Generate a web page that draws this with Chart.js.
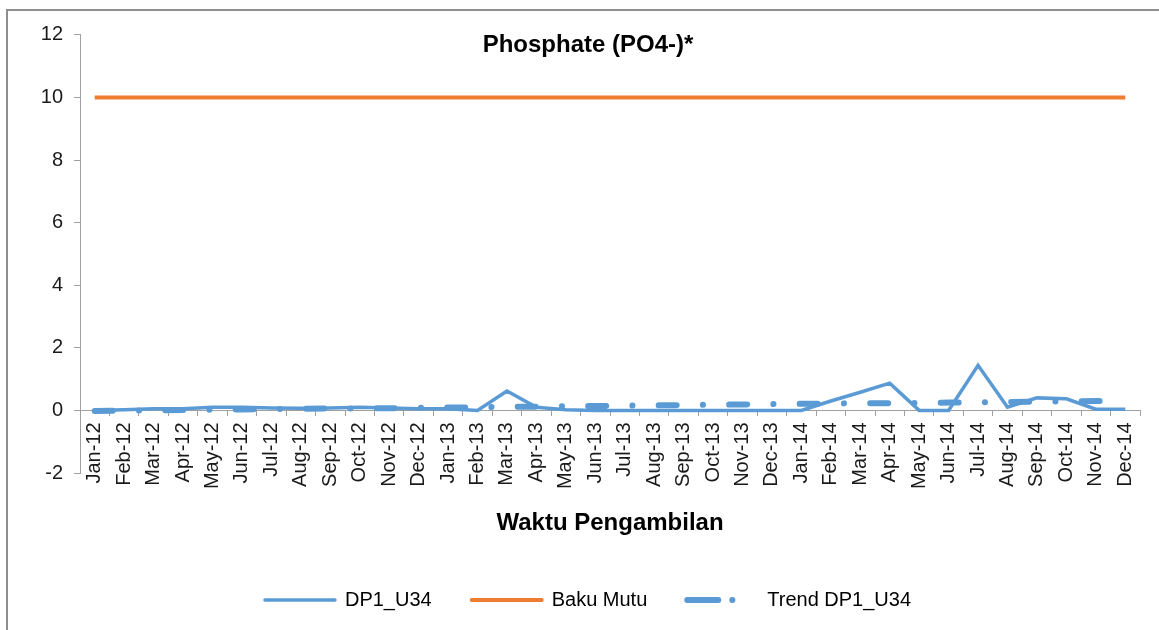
<!DOCTYPE html>
<html>
<head>
<meta charset="utf-8">
<script src="https://cdn.jsdelivr.net/npm/chart.js@4"></script>
<style>
  body { margin: 0; background: #fff; }
  #frame { position: absolute; left: 6px; top: 9px; width: 1200px; height: 700px; border: 2px solid #8e8e8e; }
  #myChart { position: absolute; left: 0; top: 0; }
</style>
</head>
<body>
<div id="frame"></div>
<canvas id="myChart" width="1159" height="630"></canvas>
<script>
var months = ['Jan-12','Feb-12','Mar-12','Apr-12','May-12','Jun-12','Jul-12','Aug-12','Sep-12','Oct-12','Nov-12','Dec-12',
              'Jan-13','Feb-13','Mar-13','Apr-13','May-13','Jun-13','Jul-13','Aug-13','Sep-13','Oct-13','Nov-13','Dec-13',
              'Jan-14','Feb-14','Mar-14','Apr-14','May-14','Jun-14','Jul-14','Aug-14','Sep-14','Oct-14','Nov-14','Dec-14'];

var dp1 = [0.00, 0.02, 0.05, 0.05, 0.10, 0.10, 0.08, 0.07, 0.08, 0.10, 0.08, 0.05,
           0.05, 0.00, 0.62, 0.10, 0.02, 0.00, 0.00, 0.00, 0.00, 0.00, 0.00, 0.00,
           0.00, 0.30, 0.58, 0.87, 0.00, 0.00, 1.44, 0.10, 0.40, 0.37, 0.04, 0.04];

var bakuMutu = [10, 10, 10, 10, 10, 10, 10, 10, 10, 10, 10, 10,
                10, 10, 10, 10, 10, 10, 10, 10, 10, 10, 10, 10,
                10, 10, 10, 10, 10, 10, 10, 10, 10, 10, 10, 10];

var trend = [-0.02, -0.01, 0.00, 0.01, 0.02, 0.03, 0.04, 0.05, 0.06, 0.06, 0.07, 0.08,
             0.09, 0.10, 0.11, 0.12, 0.13, 0.14, 0.15, 0.16, 0.17, 0.18, 0.19, 0.20,
             0.21, 0.22, 0.23, 0.23, 0.24, 0.25, 0.26, 0.27, 0.28, 0.29, 0.30, 0.31];

var yTicks = [-2, 0, 2, 4, 6, 8, 10, 12];

var axisGray = '#a0a0a0';

var ctx = document.getElementById('myChart').getContext('2d');

var chart = new Chart(ctx, {
    type: 'line',
    data: {
        labels: months,
        datasets: [{
            label: 'DP1_U34',
            data: dp1,
            borderColor: '#5b9bd5',
            backgroundColor: '#5b9bd5',
            borderWidth: 3.5,
            pointRadius: 0,
            tension: 0,
            fill: false
        }, {
            label: 'Baku Mutu',
            data: bakuMutu,
            borderColor: '#ed7d31',
            backgroundColor: '#ed7d31',
            borderWidth: 4,
            pointRadius: 0,
            fill: false
        }, {
            label: 'Trend DP1_U34',
            data: trend,
            borderColor: '#5b9bd5',
            backgroundColor: '#5b9bd5',
            borderWidth: 6,
            borderDash: [18, 26.2, 0.1, 26.2],
            borderCapStyle: 'round',
            pointRadius: 0,
            fill: false
        }]
    },
    options: {
        responsive: false,
        animation: false,
        layout: {
            padding: {left: 36, right: 19, top: 0, bottom: 10}
        },
        scales: {
            x: {
                type: 'category',
                position: {y: 0},
                offset: true,
                grid: {
                    offset: true,
                    drawOnChartArea: false,
                    drawTicks: true,
                    tickLength: 5,
                    color: axisGray
                },
                border: {color: axisGray, width: 1},
                ticks: {
                    autoSkip: false,
                    minRotation: 90,
                    maxRotation: 90,
                    padding: 7,
                    color: '#1a1a1a',
                    font: {family: 'Liberation Sans, Arial', size: 20}
                }
            },
            x2: {
                type: 'category',
                position: 'bottom',
                grid: {display: false},
                border: {display: false},
                ticks: {display: false},
                title: {
                    display: true,
                    text: 'Waktu Pengambilan',
                    color: '#000',
                    padding: {top: 0, bottom: 12},
                    font: {family: 'Liberation Sans, Arial', size: 24, weight: 'bold'}
                },
                afterFit: function(scale) { scale.height = 77; }
            },
            y: {
                min: -2,
                max: 12,
                afterBuildTicks: function(scale) {
                    scale.ticks = yTicks.map(function(v) { return {value: v}; });
                },
                afterFit: function(scale) { scale.width = 44; },
                grid: {
                    drawOnChartArea: false,
                    drawTicks: true,
                    tickLength: 6,
                    color: axisGray
                },
                border: {color: axisGray, width: 1},
                ticks: {
                    padding: 11,
                    color: '#1a1a1a',
                    font: {family: 'Liberation Sans, Arial', size: 20}
                }
            }
        },
        plugins: {
            title: {
                display: true,
                text: 'Phosphate (PO4-)*',
                color: '#000',
                padding: {top: 31, bottom: -25},
                font: {family: 'Liberation Sans, Arial', size: 24, weight: 'bold'}
            },
            legend: {
                position: 'bottom',
                labels: {
                    usePointStyle: true,
                    pointStyle: 'line',
                    pointStyleWidth: 70,
                    padding: 40,
                    color: '#000',
                    font: {family: 'Liberation Sans, Arial', size: 20},
                    generateLabels: function(chart) {
                        var items = Chart.defaults.plugins.legend.labels.generateLabels(chart);
                        items.forEach(function(item) {
                            var ds = chart.data.datasets[item.datasetIndex];
                            item.lineWidth = ds.borderWidth;
                            item.lineCap = 'round';
                            // trend item: one long dash and one dot
                            if (item.datasetIndex === 2) item.lineDash = [31, 14, 0.1, 100];
                        });
                        return items;
                    }
                }
            },
            tooltip: {enabled: false}
        }
    }
});
</script>
</body>
</html>
